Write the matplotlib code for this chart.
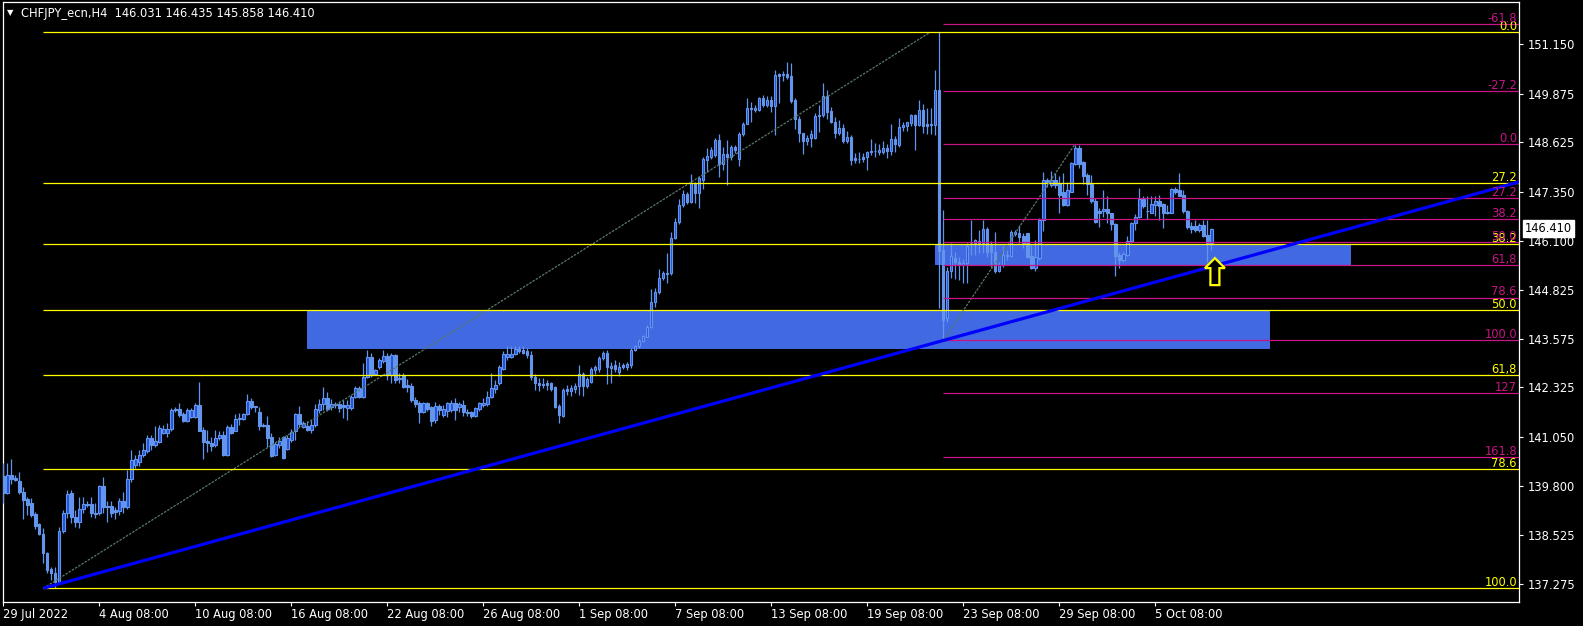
import numpy as np
import matplotlib
matplotlib.use("Agg")
import matplotlib.pyplot as plt
import matplotlib.transforms as mtransforms
from matplotlib.patches import Rectangle, Polygon

plt.rcParams['font.family'] = ['DejaVu Sans']

# ---------------- data ----------------
TITLE = "CHFJPY_ecn,H4  146.031 146.435 145.858 146.410"

OPEN = [140.05,139.62,140.07,139.99,139.91,139.64,139.45,139.36,139.07,138.80,
        138.55,138.07,137.65,137.54,137.33,138.64,139.09,139.62,139.00,138.87,
        139.19,139.33,139.33,139.10,139.10,139.79,139.27,139.27,139.17,139.15,
        139.40,139.26,139.96,140.33,140.41,140.59,140.70,141.02,140.83,140.93,
        141.16,141.16,141.25,141.74,141.78,141.64,141.47,141.57,141.57,141.87,
        141.23,140.95,140.90,140.83,141.01,141.10,140.58,141.31,141.21,141.50,
        141.51,141.63,141.97,141.84,141.70,141.35,141.36,141.05,140.58,140.84,
        141.06,140.73,140.97,141.20,141.64,141.31,141.33,141.23,141.36,141.74,
        141.90,142.04,141.81,141.90,141.90,141.87,141.79,141.79,142.09,142.30,
        142.09,142.60,143.10,142.67,142.86,143.01,143.13,142.64,143.16,142.53,
        142.62,142.38,142.36,141.99,141.92,141.68,141.92,141.83,141.49,141.85,
        141.62,141.73,141.75,141.93,141.83,141.87,141.70,141.68,141.59,141.76,
        141.88,141.90,142.07,142.28,142.43,142.79,143.10,143.10,143.19,143.31,
        143.29,143.25,143.16,142.60,142.45,142.42,142.43,142.43,142.33,141.85,
        141.59,142.28,142.22,142.28,142.36,142.67,142.35,142.47,142.76,142.79,
        143.07,143.22,142.82,142.90,142.73,142.90,142.84,142.90,143.29,143.38,
        143.53,143.63,143.89,144.53,144.78,145.14,145.27,145.26,146.16,146.58,
        147.01,147.31,147.10,147.57,147.33,147.66,148.17,148.26,148.30,148.68,
        148.08,148.34,148.26,148.50,148.21,148.84,149.11,149.50,149.47,149.47,
        149.78,149.59,149.73,149.56,150.38,150.35,150.38,150.33,149.71,149.22,
        148.86,148.67,148.73,148.73,149.30,149.32,149.82,149.44,149.16,148.86,
        148.99,148.65,148.77,148.22,148.20,148.26,148.24,148.37,148.41,148.39,
        148.39,148.48,148.41,148.72,148.56,149.03,149.05,149.12,149.32,149.08,
        149.46,149.10,149.09,149.08,149.98,145.86,144.10,145.31,145.66,145.54,
        145.46,145.52,146.05,146.05,146.10,146.04,146.40,146.02,145.82,145.31,
        145.48,145.73,145.71,146.28,146.29,146.21,146.29,145.71,145.39,145.65,
        146.63,147.66,147.54,147.66,147.58,147.36,147.02,147.36,148.08,148.48,
        148.11,147.79,147.56,147.13,146.87,146.85,146.91,146.81,146.53,145.73,
        145.61,145.73,146.08,146.55,146.72,147.17,146.87,146.82,147.02,147.13,
        147.05,146.82,146.82,147.42,147.39,147.28,146.87,146.48,146.48,146.38,
        146.51,146.25,146.031]
HIGH = [140.37,140.37,140.48,140.06,140.14,139.77,139.50,139.49,139.13,138.83,
        138.70,138.10,137.70,137.71,138.74,139.17,139.69,139.69,139.17,139.51,
        139.51,139.40,139.51,139.36,139.81,140.01,139.39,139.39,139.25,139.47,
        139.64,140.20,140.71,140.59,140.71,140.89,141.10,141.10,141.32,141.36,
        141.36,141.40,141.79,141.83,141.92,141.70,141.79,141.79,141.93,142.47,
        141.31,141.23,141.04,141.24,141.19,141.19,141.36,141.37,141.64,141.66,
        141.66,142.15,142.04,141.85,141.81,141.40,141.59,141.14,140.93,141.04,
        141.07,141.10,141.26,141.66,141.85,141.47,141.47,141.49,141.90,142.02,
        142.34,142.21,142.02,141.96,141.98,142.00,142.00,142.13,142.36,142.36,
        142.94,143.29,143.20,142.81,143.07,143.29,143.20,143.20,143.18,142.69,
        142.70,142.53,142.45,142.08,141.97,141.96,141.96,141.85,141.96,141.90,
        141.87,141.96,142.00,142.05,141.96,142.00,141.76,141.73,141.83,141.96,
        142.05,142.22,142.69,142.52,142.90,143.25,143.38,143.39,143.38,143.39,
        143.38,143.33,143.27,142.67,142.56,142.56,142.52,142.47,142.36,141.90,
        142.30,142.39,142.39,142.43,142.90,142.71,142.59,142.84,142.90,143.13,
        143.27,143.29,142.99,143.03,142.99,142.95,142.99,143.33,143.42,143.56,
        143.67,143.93,144.86,144.87,145.36,145.32,145.77,146.33,146.67,147.18,
        147.40,147.36,147.81,147.62,147.75,148.24,148.47,148.51,148.73,148.84,
        148.51,148.68,148.56,148.56,148.90,149.16,149.76,149.67,149.58,149.80,
        149.84,149.82,149.82,150.50,150.40,150.47,150.70,150.66,149.76,149.30,
        148.87,148.81,148.94,149.37,149.60,150.15,149.98,149.55,149.29,149.21,
        149.09,148.92,148.82,148.35,148.39,148.35,148.41,148.72,148.61,148.58,
        148.67,148.58,149.10,148.78,149.25,149.15,149.16,149.35,149.35,149.72,
        149.61,149.51,149.51,150.49,151.46,146.90,145.43,146.05,145.80,145.69,
        145.62,146.04,146.62,146.15,146.37,146.62,146.45,146.08,146.33,145.54,
        145.95,145.85,146.38,146.38,146.51,146.29,146.30,145.99,146.12,146.68,
        147.86,147.71,147.88,147.84,147.75,147.83,147.62,148.11,148.56,148.56,
        148.14,147.84,147.79,147.19,146.93,147.41,147.25,146.82,146.55,145.82,
        145.80,146.22,146.57,146.79,147.45,147.25,147.24,147.25,147.25,147.28,
        147.06,147.02,147.45,147.48,147.85,147.41,146.89,146.59,146.63,146.55,
        146.63,146.64,146.435]
LOW = [139.34,139.58,139.84,139.92,139.58,138.93,139.05,139.00,138.67,138.53,
       137.82,137.54,137.37,137.16,137.28,138.57,138.96,138.83,138.74,138.70,
       139.09,139.25,139.00,138.96,139.05,139.09,138.85,139.00,138.93,139.04,
       139.10,139.20,139.90,140.24,140.29,140.54,140.63,140.71,140.80,140.89,
       141.13,141.06,141.21,141.70,141.57,141.44,141.44,141.53,141.53,141.19,
       140.47,140.67,140.70,140.80,140.97,140.55,140.55,141.12,141.19,141.36,
       141.49,141.61,141.78,141.70,141.24,141.30,140.80,140.54,140.56,140.76,
       140.47,140.71,140.93,140.97,141.31,141.27,141.21,141.14,141.31,141.67,
       141.74,141.73,141.74,141.79,141.70,141.53,141.49,141.74,142.04,142.04,
       142.04,142.56,142.60,142.64,142.81,142.94,142.51,142.43,142.43,142.43,
       142.30,142.21,141.96,141.83,141.40,141.66,141.73,141.32,141.40,141.62,
       141.57,141.56,141.70,141.49,141.70,141.59,141.59,141.53,141.56,141.73,
       141.83,141.85,142.04,142.17,142.39,142.76,143.03,143.08,143.16,143.22,
       143.19,143.08,142.52,142.26,142.24,142.30,142.26,142.22,141.79,141.42,
       141.57,142.13,142.11,142.17,142.13,142.11,142.30,142.43,142.67,142.73,
       143.03,142.42,142.43,142.73,142.62,142.80,142.77,142.82,143.25,143.33,
       143.50,143.61,143.85,144.40,144.73,145.08,145.02,145.22,146.13,146.54,
       146.97,147.05,147.06,147.07,146.93,147.42,147.87,148.19,148.26,147.74,
       147.91,147.53,148.17,148.36,148.02,148.79,149.09,149.16,149.41,149.44,
       149.54,149.54,149.41,148.81,149.63,150.21,150.27,149.65,148.96,148.64,
       148.34,148.56,148.50,148.71,148.90,149.27,149.23,149.12,148.74,148.82,
       148.61,148.61,148.05,148.09,148.09,148.12,147.92,148.31,148.24,148.29,
       148.32,148.22,148.29,148.37,148.52,148.92,148.92,149.04,148.43,149.04,
       148.86,148.84,148.84,148.82,144.36,143.56,144.01,145.14,145.12,145.09,
       145.00,145.01,145.74,145.74,145.78,145.79,145.69,145.43,145.26,145.28,
       145.43,145.59,145.69,146.21,146.04,145.91,145.65,145.36,145.31,145.59,
       146.34,147.49,147.47,147.45,146.81,147.00,146.99,147.34,148.05,147.96,
       147.56,147.28,147.08,146.55,146.46,146.72,146.55,146.38,145.19,145.39,
       145.56,145.71,146.03,146.38,146.68,146.94,146.65,146.81,146.74,146.62,
       146.42,146.78,146.80,147.30,147.24,146.81,146.40,146.29,146.33,146.33,
       146.19,145.56,145.858]
CLOSE = [139.62,140.07,139.97,139.95,139.64,139.43,139.30,139.04,138.77,138.55,
         138.06,137.63,137.54,137.33,138.64,139.09,139.57,138.98,138.85,139.19,
         139.33,139.30,139.10,139.08,139.79,139.24,139.24,139.10,139.13,139.39,
         139.26,139.96,140.46,140.48,140.59,140.71,141.02,140.83,140.95,141.27,
         141.25,141.25,141.74,141.78,141.62,141.47,141.74,141.74,141.87,141.21,
         140.93,140.90,140.82,141.01,141.10,140.58,141.31,141.16,141.50,141.53,
         141.63,141.97,141.83,141.81,141.33,141.33,141.01,140.56,140.88,140.95,
         140.50,141.01,141.18,141.64,141.38,141.40,141.24,141.36,141.76,141.90,
         142.04,141.78,141.90,141.87,141.79,141.83,141.87,142.09,142.30,142.09,
         142.60,143.10,142.64,142.77,143.03,143.13,142.64,143.16,142.51,142.57,
         142.34,142.34,141.99,141.90,141.68,141.92,141.76,141.47,141.85,141.75,
         141.76,141.92,141.93,141.75,141.90,141.70,141.66,141.59,141.79,141.92,
         141.92,142.09,142.30,142.39,142.84,143.19,143.19,143.19,143.31,143.25,
         143.22,143.16,142.59,142.45,142.39,142.39,142.39,142.28,141.81,141.62,
         142.26,142.24,142.30,142.36,142.67,142.35,142.53,142.79,142.84,143.07,
         143.22,142.84,142.88,142.79,142.84,142.84,142.93,143.29,143.38,143.53,
         143.65,143.89,144.53,144.78,145.14,145.27,145.24,146.16,146.58,147.01,
         147.31,147.10,147.57,147.33,147.70,148.19,148.27,148.44,148.68,148.08,
         148.34,148.24,148.50,148.43,148.84,149.11,149.50,149.48,149.50,149.78,
         149.59,149.73,149.56,150.36,150.33,150.38,150.31,149.70,149.22,148.86,
         148.67,148.75,148.84,149.30,149.32,149.82,149.42,149.16,148.86,148.99,
         148.65,148.77,148.18,148.18,148.21,148.20,148.37,148.41,148.40,148.44,
         148.48,148.41,148.72,148.58,149.03,149.08,149.14,149.32,149.08,149.46,
         149.04,149.05,149.07,149.98,145.84,144.05,145.31,145.71,145.54,145.46,
         145.52,145.95,146.03,146.12,146.04,146.40,145.80,145.80,145.31,145.48,
         145.73,145.71,146.33,146.33,146.19,146.05,145.69,145.39,145.69,146.63,
         147.66,147.62,147.66,147.54,147.28,147.02,147.41,148.09,148.48,148.08,
         147.75,147.56,147.11,146.59,146.82,146.91,146.81,146.53,145.71,145.59,
         145.76,146.08,146.55,146.72,147.17,146.98,146.85,147.05,147.13,146.99,
         146.82,146.84,147.42,147.36,147.25,146.85,146.45,146.39,146.38,146.51,
         146.22,146.05,146.410]

DATE_TICK_BARS = [0, 24, 48, 72, 96, 120, 144, 168, 192, 216, 240, 264, 288]
DATE_LABELS = ["29 Jul 2022", "4 Aug 08:00", "10 Aug 08:00", "16 Aug 08:00",
               "22 Aug 08:00", "26 Aug 08:00", "1 Sep 08:00", "7 Sep 08:00",
               "13 Sep 08:00", "19 Sep 08:00", "23 Sep 08:00", "29 Sep 08:00",
               "5 Oct 08:00"]
PRICE_TICKS = [151.150, 149.875, 148.625, 147.350, 146.100, 144.825,
               143.575, 142.325, 141.050, 139.800, 138.525, 137.275]
LAST_PRICE = 146.410

# Fibonacci 1 (yellow): anchored low -> high
FIB1_START = 10.0
FIB1_ANCHOR_X = [10.0, 231.7]
FIB1_ANCHOR_Y = [137.157, 151.459]
FIB1_LABELS = ["0.0", "27.2", "38.2", "50.0", "61,8", "78.6", "100.0"]
FIB1_PRICES = [151.459, 147.574, 146.005, 144.308, 142.636, 140.218, 137.157]

# Fibonacci 2 (magenta)
FIB2_START = 235.0
FIB2_ANCHOR_X = [235.0, 267.9]
FIB2_ANCHOR_Y = [143.536, 148.578]
FIB2_LABELS = ["-61.8", "-27.2", "0.0", "27.2", "38.2", "50.0", "61,8",
               "78.6", "100.0", "127", "161.8"]
FIB2_PRICES = [151.665, 149.941, 148.578, 147.189, 146.649, 146.057, 145.465,
               144.632, 143.536, 142.173, 140.526]

# Supply/demand zones
ZONE_X0 = [75.9, 233.0]
ZONE_X1 = [316.7, 336.9]
ZONE_LO = [143.30, 145.473]
ZONE_HI = [144.30, 146.005]

# Trend line anchors (bar index, price)
TREND_X = [10.0, 302.0]
TREND_Y = [137.157, 145.43]

# Arrow marker position (tip)
ARROW_X = 302.9
ARROW_Y = 145.65

# ---------------- styles ----------------
BG = "black"
FG = "white"
CANDLE = "#6495ED"
BULL_FILL = "#2352D8"
ZONE_COL = "#4169E1"
TREND_COL = "#0000FF"
YEL = "#FFFF00"
MAG = "#C71585"
ANCHOR_COL = "#587868"

W, H = 1583, 626
DPI = 100
fig = plt.figure(figsize=(W / DPI, H / DPI), dpi=DPI, facecolor=BG)
L_PX, R_PX, T_PX, B_PX = 3, 1519, 2, 602
ax = fig.add_axes([L_PX / W, (H - B_PX) / H, (R_PX - L_PX) / W, (B_PX - T_PX) / H])
ax.set_facecolor(BG)

# bar i drawn at pixel 3.3 + 4*i
x_left = (L_PX - 3.3) / 4.0
x_right = (R_PX - 3.3) / 4.0
ax.set_xlim(x_left, x_right)
px_per_yen = 38.875
top_price = 151.150 + (44.3 - T_PX) / px_per_yen
bot_price = 151.150 - (B_PX - 44.3) / px_per_yen
ax.set_ylim(bot_price, top_price)

O = np.array(OPEN); Hh = np.array(HIGH); Lw = np.array(LOW); C = np.array(CLOSE)
xs = np.arange(len(O))

# zones (background)
for x0, x1, lo, hi in zip(ZONE_X0, ZONE_X1, ZONE_LO, ZONE_HI):
    ax.add_patch(Rectangle((x0, lo), x1 - x0, hi - lo, facecolor=ZONE_COL,
                           edgecolor="none", zorder=1))

# candles
ax.vlines(xs, Lw, Hh, color=CANDLE, lw=0.9, zorder=3)
lo_b = np.minimum(O, C)
hgt = np.maximum(np.abs(C - O), 0.005)
bull = C >= O
bear = ~bull
ax.bar(xs[bear], hgt[bear], bottom=lo_b[bear], width=0.6, color=CANDLE,
       edgecolor=CANDLE, lw=0.8, zorder=3.2)
ax.bar(xs[bull], hgt[bull], bottom=lo_b[bull], width=0.6, facecolor=BULL_FILL,
       edgecolor=CANDLE, lw=0.8, zorder=3.2)

# fib 1
ax.plot(FIB1_ANCHOR_X, FIB1_ANCHOR_Y, color=ANCHOR_COL, lw=0.9,
        linestyle=(0, (2, 1)), zorder=4)
for lab, p in zip(FIB1_LABELS, FIB1_PRICES):
    ax.hlines(p, FIB1_START, x_right, color=YEL, lw=0.9, zorder=4)
    ax.annotate(lab, xy=(1.0, p), xycoords=("axes fraction", "data"),
                xytext=(-2, 2.5), textcoords="offset pixels", ha="right",
                va="baseline", color=YEL, fontsize=8.3, zorder=6)

# fib 2
ax.plot(FIB2_ANCHOR_X, FIB2_ANCHOR_Y, color=ANCHOR_COL, lw=0.9,
        linestyle=(0, (2, 1)), zorder=4)
for lab, p in zip(FIB2_LABELS, FIB2_PRICES):
    ax.hlines(p, FIB2_START, x_right, color=MAG, lw=0.9, zorder=4)
    ax.annotate(lab, xy=(1.0, p), xycoords=("axes fraction", "data"),
                xytext=(-2, 2.5), textcoords="offset pixels", ha="right",
                va="baseline", color=MAG, fontsize=8.3, zorder=6)

# trend line extended to the right edge
slope = (TREND_Y[1] - TREND_Y[0]) / (TREND_X[1] - TREND_X[0])
ax.plot([TREND_X[0], x_right], [TREND_Y[0], TREND_Y[0] + slope * (x_right - TREND_X[0])],
        color=TREND_COL, lw=2.3, zorder=5, solid_capstyle="butt")

# arrow (shape in pixels around the tip)
arrow_shape = [(0, 0), (10, -10), (4.5, -10), (4.5, -27), (-4.5, -27),
               (-4.5, -10), (-10, -10)]
trans = mtransforms.Affine2D() + mtransforms.ScaledTranslation(ARROW_X, ARROW_Y, ax.transData)
ax.add_patch(Polygon(arrow_shape, closed=True, facecolor="black", edgecolor=YEL,
                     lw=1.6, transform=trans, zorder=7, clip_on=False))

# axes frame and ticks
for s in ax.spines.values():
    s.set_color(FG)
    s.set_linewidth(0.9)
ax.yaxis.tick_right()
ax.set_yticks(PRICE_TICKS)
ax.set_yticklabels([f"{v:.3f}" for v in PRICE_TICKS])
ax.set_xticks(DATE_TICK_BARS)
ax.set_xticklabels(DATE_LABELS, ha="left")
ax.tick_params(axis="both", colors=FG, labelcolor=FG, labelsize=8.3,
               direction="out", length=3, width=0.8)
ax.tick_params(axis="y", pad=3)
ax.tick_params(axis="x", pad=1.5)

# last price box
ax.annotate(f"{LAST_PRICE:.3f}", xy=(1.0, LAST_PRICE),
            xycoords=("axes fraction", "data"), xytext=(6, 0),
            textcoords="offset pixels", ha="left", va="center", color="black",
            fontsize=8.3, zorder=10, annotation_clip=False,
            bbox=dict(boxstyle="square,pad=0.2", facecolor="white", edgecolor="white"))

# header
fig.text(7 / W, 1 - 13 / H, "\u25BC", color=FG, fontsize=6, va="center", ha="left")
fig.text(21 / W, 1 - 13 / H, TITLE, color=FG, fontsize=8.3, va="center", ha="left")

fig.savefig("out.png", dpi=DPI, facecolor=BG)
